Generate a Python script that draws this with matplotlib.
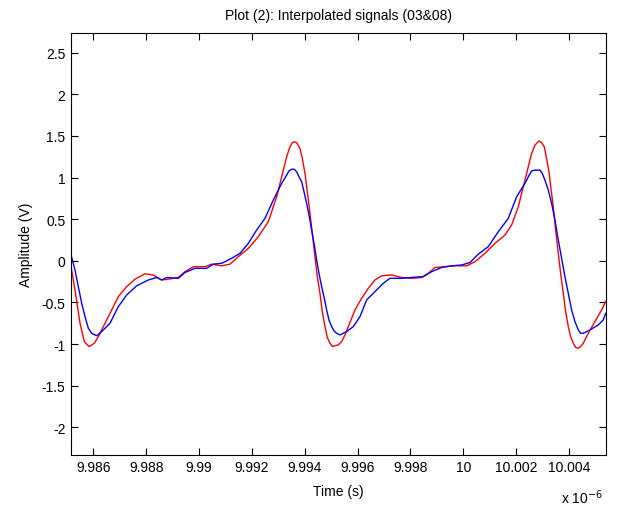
import numpy as np
import matplotlib
matplotlib.use("Agg")
import matplotlib.pyplot as plt
from matplotlib.ticker import FuncFormatter, FixedLocator

plt.rcParams['font.family'] = ['Liberation Sans', 'DejaVu Sans']

# Time values in microseconds (scaled to seconds below)
red_t_us = [9.98516, 9.985307, 9.985497, 9.985660, 9.985837, 9.986039, 9.986190,
            9.986569, 9.986947, 9.987262, 9.987578,
            9.987956, 9.988271, 9.988586, 9.988839, 9.989217, 9.989469, 9.989785,
            9.990226, 9.990478, 9.990857, 9.991172, 9.991487, 9.991866, 9.992244,
            9.992622, 9.992938, 9.993190, 9.993316, 9.993442, 9.993531, 9.993606,
            9.993694, 9.993820, 9.993909, 9.994010, 9.994199, 9.994287, 9.994388,
            9.994476, 9.994577, 9.994665, 9.994766, 9.994855, 9.994956, 9.995057,
            9.995145, 9.995271, 9.995397, 9.995523, 9.995649,
            9.995902, 9.996154, 9.996406, 9.996658, 9.996911, 9.997289,
            9.997667, 9.998046, 9.998424, 9.998676, 9.998929, 9.999307, 9.999685,
            10.000127, 10.000442, 10.000820, 10.001199, 10.001577, 10.001829,
            10.002082, 10.002334, 10.002586, 10.002712, 10.002864, 10.002964,
            10.003065, 10.003153, 10.003241, 10.003317, 10.003406, 10.003494,
            10.003595, 10.003683, 10.003784, 10.003873, 10.003973, 10.004062,
            10.004163, 10.004251, 10.004352, 10.004440, 10.004541,
            10.004730, 10.004982, 10.005235, 10.005386]
red_v = [-0.07, -0.35, -0.75, -0.97, -1.03, -0.99, -0.91,
         -0.67, -0.43, -0.31, -0.22,
         -0.156, -0.17, -0.23, -0.22, -0.20, -0.13, -0.07,
         -0.07, -0.04, -0.06, -0.04, 0.05, 0.15, 0.29,
         0.47, 0.77, 1.09, 1.25, 1.37, 1.42, 1.43,
         1.42, 1.35, 1.23, 1.05, 0.57, 0.33, 0.05,
         -0.19, -0.39, -0.61, -0.79, -0.92, -0.99, -1.03,
         -1.02, -1.01, -0.97, -0.89, -0.79,
         -0.59, -0.45, -0.33, -0.23, -0.18, -0.17,
         -0.20, -0.21, -0.20, -0.15, -0.08, -0.07, -0.06,
         -0.06, -0.01, 0.09, 0.21, 0.31, 0.43,
         0.65, 0.97, 1.29, 1.39, 1.44, 1.42,
         1.37, 1.23, 1.07, 0.87, 0.65, 0.37,
         0.09, -0.15, -0.39, -0.61, -0.79, -0.91,
         -0.99, -1.04, -1.05, -1.03, -0.99,
         -0.87, -0.73, -0.59, -0.49]

blue_t_us = [9.98516, 9.985307, 9.985433, 9.985560, 9.985686, 9.985812, 9.985938,
             9.986127, 9.986316, 9.986632,
             9.986947, 9.987262, 9.987641, 9.988082, 9.988397, 9.988586, 9.988776,
             9.989217, 9.989469, 9.989848, 9.990289, 9.990541, 9.990857, 9.991235,
             9.991550, 9.991866, 9.992181, 9.992496, 9.992812, 9.993127, 9.993316,
             9.993404, 9.993505, 9.993606, 9.993694, 9.993783, 9.993884, 9.993972,
             9.994073, 9.994174, 9.994262, 9.994363, 9.994451, 9.994539, 9.994640,
             9.994741, 9.994829, 9.994917, 9.995019, 9.995107, 9.995208,
             9.995334, 9.995586, 9.995839, 9.996091, 9.996343,
             9.996658, 9.996974, 9.997226, 9.997667, 9.998046, 9.998487, 9.998802,
             9.999181, 9.999559, 9.999937, 10.000253, 10.000568, 10.000946,
             10.001325, 10.001703, 10.002018, 10.002334, 10.002460, 10.002586,
             10.002712, 10.002901, 10.002989, 10.003090, 10.003216, 10.003343,
             10.003469, 10.003595, 10.003721, 10.003847, 10.003973, 10.004099,
             10.004225, 10.004352, 10.004440, 10.004541, 10.004793, 10.005108,
             10.005297, 10.005386]
blue_v = [0.07, -0.11, -0.31, -0.51, -0.67, -0.81, -0.87,
          -0.90, -0.85, -0.75,
          -0.55, -0.41, -0.30, -0.23, -0.20, -0.23, -0.20,
          -0.21, -0.14, -0.09, -0.09, -0.04, -0.03, 0.03,
          0.09, 0.21, 0.37, 0.51, 0.73, 0.93, 1.03,
          1.08, 1.10, 1.10, 1.07, 1.01, 0.95, 0.83,
          0.69, 0.53, 0.37, 0.19, 0.01, -0.15, -0.31,
          -0.45, -0.59, -0.71, -0.79, -0.84, -0.87,
          -0.89, -0.85, -0.79, -0.67, -0.47,
          -0.37, -0.27, -0.21, -0.21, -0.20, -0.19, -0.13,
          -0.08, -0.06, -0.05, -0.02, 0.08, 0.17,
          0.35, 0.51, 0.77, 0.93, 1.01, 1.08,
          1.09, 1.09, 1.05, 0.97, 0.85, 0.69,
          0.49, 0.25, 0.03, -0.19, -0.39, -0.59,
          -0.73, -0.83, -0.87, -0.87, -0.83, -0.77,
          -0.71, -0.63]

xticks_us = [9.986, 9.988, 9.990, 9.992, 9.994, 9.996, 9.998, 10.000, 10.002, 10.004]
yticks = [-2, -1.5, -1, -0.5, 0, 0.5, 1, 1.5, 2, 2.5]

title = "Plot (2): Interpolated signals (03&08)"
xlabel = "Time (s)"
ylabel = "Amplitude (V)"

fig = plt.figure(figsize=(6.18, 5.10), dpi=100)
ax = fig.add_axes([71/618, 1 - 455.7/510, (605.7 - 71)/618, (455.7 - 34)/510])

ax.plot(np.array(red_t_us) * 1e-6, red_v, color=(1.0, 0.0, 0.0), lw=1.0)
ax.plot(np.array(blue_t_us) * 1e-6, blue_v, color=(0.0, 0.0, 1.0), lw=1.0)

ax.set_xlim(9.985156e-6, 10.005389e-6)
ax.set_ylim(-2.329, 2.737)
ax.xaxis.set_major_locator(FixedLocator([v * 1e-6 for v in xticks_us]))
ax.yaxis.set_major_locator(FixedLocator(yticks))
ax.xaxis.set_major_formatter(FuncFormatter(lambda v, p: "%g" % round(v / 1e-6, 6)))
ax.yaxis.set_major_formatter(FuncFormatter(lambda v, p: "%g" % v))

ax.tick_params(direction='in', length=5, width=0.8, top=True, right=True,
               labelsize=10, colors='black', pad=4)
for s in ax.spines.values():
    s.set_linewidth(0.8)
    s.set_color('black')

ax.set_title(title, fontsize=10, pad=10)
ax.set_xlabel(xlabel, fontsize=10, labelpad=7)
ax.set_ylabel(ylabel, fontsize=10, labelpad=6)
ax.text(0.995, -0.078, r"x 10$^{-6}$", transform=ax.transAxes, ha='right', va='top',
        fontsize=10)

fig.savefig("out.png", dpi=100, facecolor='white')
